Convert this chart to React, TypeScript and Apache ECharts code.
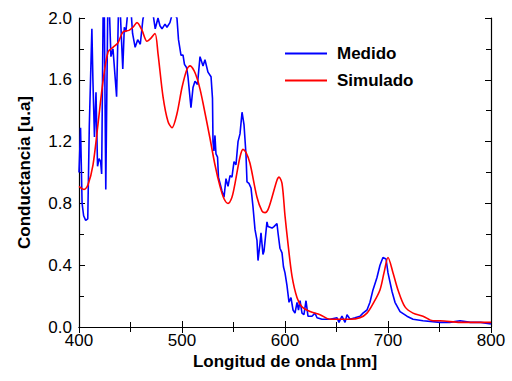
import React, { useEffect, useRef } from "react";
import * as echarts from "echarts";

const xTicks = [400, 500, 600, 700, 800];
const yTicks = [0.0, 0.4, 0.8, 1.2, 1.6, 2.0];
const seriesNames = ["Medido", "Simulado"];

const medidoData: [number, number][] = [
  [400, 1.0], [401.5, 1.29], [403, 0.8], [404.5, 0.72], [406.5, 0.69], [408.5, 0.70],
  [410, 1.3], [412.5, 1.93], [413.5, 1.6], [415, 1.23], [416.5, 1.52], [418, 1.04],
  [419.5, 1.09], [421, 1.07], [422, 0.99], [423.5, 2.1], [424.5, 2.1], [426, 0.89],
  [428, 2.1], [429.5, 2.05], [431, 1.75], [433, 1.8], [436.5, 1.49], [438.5, 2.1],
  [440, 2.05], [442.5, 1.67], [444, 1.94], [445.5, 1.91], [447.5, 2.05], [450.5, 2.05],
  [452, 1.9], [454.5, 1.81], [457, 1.86], [459.5, 1.83], [462, 1.99], [464, 2.05],
  [472, 2.02], [474, 1.93], [476.7, 2.0], [478.6, 1.95], [480.6, 1.93], [483.5, 1.96],
  [485.4, 1.94], [488.3, 1.97], [490.3, 2.02], [493.2, 2.02], [495.1, 2.0], [496.6, 1.86],
  [499, 1.76], [501, 1.76], [502.4, 1.7], [504.4, 1.68], [505.8, 1.62], [508.7, 1.42],
  [510.7, 1.55], [512.6, 1.59], [515, 1.57], [517.5, 1.75], [520.4, 1.69], [522.3, 1.73],
  [525.2, 1.65], [528.2, 1.62], [529.6, 1.48], [530.1, 1.2], [531, 1.14], [532, 1.24],
  [533, 1.12], [534.5, 1.1], [535.4, 0.97], [538.8, 0.88], [540.8, 0.84], [542.7, 0.96],
  [544.7, 0.91], [546.6, 0.98], [548.5, 0.97], [550.5, 1.07], [552.4, 1.05], [554.4, 1.2],
  [556.3, 1.25], [558.3, 1.39], [560.2, 1.31], [562.1, 1.12], [563.1, 0.94], [565, 0.93],
  [567, 0.9], [568.9, 0.78], [570.9, 0.63], [572.8, 0.56], [573.8, 0.43], [575.7, 0.54],
  [576.7, 0.61], [578.6, 0.47], [579.6, 0.49], [582.5, 0.68], [583.5, 0.65], [587.4, 0.64],
  [589.3, 0.65], [592.2, 0.67], [593.2, 0.61], [595.1, 0.51], [597.1, 0.48], [598.5, 0.39],
  [600, 0.35], [601.9, 0.27], [603.9, 0.16], [605.8, 0.19], [607.8, 0.11], [609.7, 0.09],
  [611.7, 0.16], [613.1, 0.11], [614.6, 0.17], [616.5, 0.09], [618.4, 0.08], [620.4, 0.17],
  [622.3, 0.07], [626.2, 0.07], [629.1, 0.09], [631.1, 0.06], [635.9, 0.05], [643.7, 0.05],
  [650.5, 0.06], [652.4, 0.03], [655.3, 0.07], [658.3, 0.03], [660.2, 0.08], [663.1, 0.05],
  [668, 0.06], [672.8, 0.07], [675.7, 0.09], [679.6, 0.11], [682.5, 0.16], [685.4, 0.24],
  [689.3, 0.32], [692.2, 0.4], [695.1, 0.45], [698.1, 0.44], [700, 0.35], [703.9, 0.23],
  [706.8, 0.16], [711.7, 0.1], [718.4, 0.07], [724.3, 0.05], [734, 0.04], [750.5, 0.03],
  [760, 0.03], [770, 0.04], [780, 0.03], [790, 0.03], [800, 0.02],
];

const simuladoData: [number, number][] = [
  [400, 0.91], [404.9, 0.89], [408.7, 0.92], [413.6, 1.05], [418.4, 1.31], [423.3, 1.59],
  [428.2, 1.78], [433, 1.81], [437.9, 1.84], [442.7, 1.91], [448.5, 1.92], [452.4, 1.94],
  [456.3, 1.97], [461.2, 1.92], [466, 1.85], [469.9, 1.87], [473.8, 1.9], [476.7, 1.77],
  [481.6, 1.49], [486.4, 1.33], [490.3, 1.29], [495.1, 1.38], [500, 1.55], [504.9, 1.67],
  [507.8, 1.69], [511.7, 1.66], [514.6, 1.61], [517.5, 1.54], [520.4, 1.45], [527.2, 1.22],
  [532, 1.05], [536.9, 0.91], [540.8, 0.83], [544.7, 0.8], [548.5, 0.84], [551.5, 0.93],
  [556.3, 1.1], [559.2, 1.15], [562.1, 1.13], [566, 1.06], [572.8, 0.84], [577.7, 0.75],
  [580.6, 0.74], [583.5, 0.76], [587.4, 0.84], [592.2, 0.95], [594.2, 0.97], [597.1, 0.93],
  [600, 0.72], [602.9, 0.54], [606.8, 0.33], [611.7, 0.19], [616.5, 0.13], [624.3, 0.1],
  [634, 0.08], [643.7, 0.05], [653.4, 0.05], [663.1, 0.05], [672.8, 0.06], [679.6, 0.09],
  [685.4, 0.15], [692.2, 0.24], [696.1, 0.35], [700, 0.45], [704.9, 0.35], [709.7, 0.24],
  [716.5, 0.13], [724.3, 0.09], [734, 0.07], [743.7, 0.04], [750.5, 0.04], [770, 0.03],
  [800, 0.03],
];

const FONT = "'Liberation Sans', Arial, sans-serif";

export default function App() {
  const ref = useRef<HTMLDivElement>(null);
  useEffect(() => {
    if (!ref.current) return;
    const chart = echarts.init(ref.current, null, { renderer: "svg" });
    const axisLine = { show: true, lineStyle: { color: "#000", width: 1.2 } };
    const tick = { show: true, inside: true, length: 6, lineStyle: { color: "#000", width: 1 } };
    const minor = { show: true, splitNumber: 2, length: 5, lineStyle: { color: "#000", width: 1 } };
    const xMin = xTicks[0], xMax = xTicks[xTicks.length - 1];
    const yMin = yTicks[0], yMax = yTicks[yTicks.length - 1];
    chart.setOption({
      animation: false,
      backgroundColor: "#fff",
      grid: { left: 79, top: 18, right: 21, bottom: 54, containLabel: false },
      legend: {
        orient: "vertical",
        left: 280,
        top: 40,
        icon: "rect",
        itemWidth: 42,
        itemHeight: 2,
        itemGap: 10,
        data: seriesNames,
        textStyle: { fontSize: 17, fontWeight: "bold", color: "#000", fontFamily: FONT, padding: [0, 0, 0, 5] },
      },
      xAxis: [
        {
          type: "value", min: xMin, max: xMax, interval: 100,
          axisLine, axisTick: tick, minorTick: minor, splitLine: { show: false },
          axisLabel: { fontSize: 17, lineHeight: 17, color: "#000", fontFamily: FONT, margin: 5 },
          name: "Longitud de onda [nm]", nameLocation: "middle", nameGap: 26, nameMoveOverlap: false,
          nameTextStyle: { fontSize: 17, lineHeight: 17, fontWeight: "bold", color: "#000", fontFamily: FONT, verticalAlign: "top" },
        },
        {
          type: "value", position: "top", min: xMin, max: xMax, interval: 100,
          axisLine, axisTick: tick, minorTick: minor, splitLine: { show: false },
          axisLabel: { show: false },
        },
      ],
      yAxis: [
        {
          type: "value", min: yMin, max: yMax, interval: 0.4,
          axisLine, axisTick: tick, minorTick: minor, splitLine: { show: false },
          axisLabel: { fontSize: 17, color: "#000", fontFamily: FONT, margin: 7, formatter: (v: number) => v.toFixed(1) },
          name: "Conductancia [u.a]", nameLocation: "middle", nameGap: 46, nameMoveOverlap: false,
          nameTextStyle: { fontSize: 17, fontWeight: "bold", color: "#000", fontFamily: FONT },
        },
        {
          type: "value", position: "right", min: yMin, max: yMax, interval: 0.4,
          axisLine, axisTick: tick, minorTick: minor, splitLine: { show: false },
          axisLabel: { show: false },
        },
      ],
      series: [
        {
          name: seriesNames[0], type: "line", data: medidoData, symbol: "none",
          lineStyle: { color: "#0000ff", width: 1.6 }, itemStyle: { color: "#0000ff" }, clip: true, z: 2,
        },
        {
          name: seriesNames[1], type: "line", data: simuladoData, symbol: "none", smooth: 0.3,
          lineStyle: { color: "#ff0000", width: 1.6 }, itemStyle: { color: "#ff0000" }, clip: true, z: 3,
        },
      ],
    });
    return () => chart.dispose();
  }, []);
  return <div ref={ref} style={{ width: 512, height: 381, position: "absolute", left: 0, top: 0 }} />;
}
